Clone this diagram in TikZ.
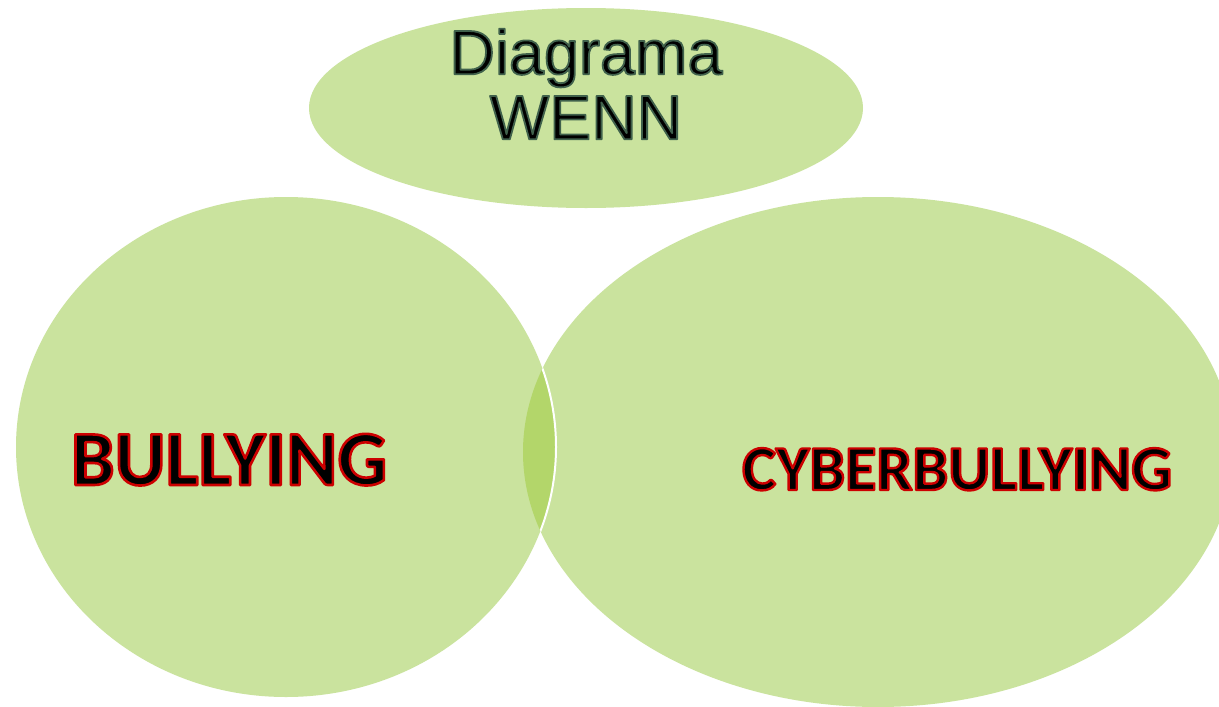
\documentclass[tikz,border=0pt]{standalone}
\usepackage{fontspec}
\setmainfont{Liberation Sans}
\newfontfamily\carlitofont{Carlito}
\usetikzlibrary{shapes.geometric}
\definecolor{lightgreen}{RGB}{202,227,158}
\definecolor{lensgreen}{RGB}{179,214,106}
\newcommand\outlinedtext[3]{\special{pdf:literal direct #1 RG #2 w 1 j 2 Tr}#3\special{pdf:literal direct 0 Tr}}
\tikzset{
  blob/.style={ellipse, fill=lightgreen, draw=none, inner sep=0pt},
  lbl/.style={inner sep=0pt, text=black},
}
\begin{document}
\begin{tikzpicture}[x=1pt,y=-1pt]
\clip (0,0) rectangle (1219,707);
\fill[white] (0,0) rectangle (1219,707);
% shapes
\node[blob, minimum width=554pt, minimum height=200pt] (title) at (586,108) {};
\node[blob, minimum width=710pt, minimum height=510pt] (right) at (878,452) {};
\node[blob, minimum width=540pt, minimum height=500pt] (left) at (286,447) {};
% lens
\begin{scope}
  \clip (right.center) ellipse [x radius=355, y radius=255];
  \fill[lensgreen] (left.center) ellipse [x radius=270, y radius=250];
  \draw[white, line width=2pt] (left.center) ellipse [x radius=270, y radius=250];
\end{scope}
% texts
\node[lbl, align=center, font=\fontsize{63}{65}\selectfont] (titletext) at (586,84)
  {\outlinedtext{0.25 0.38 0.3}{1.8}{Diagrama}\\\outlinedtext{0.25 0.38 0.3}{1.8}{WENN}};
\node[lbl, anchor=base, font=\carlitofont\bfseries\fontsize{78}{80}\selectfont] (bullying) at (229,485)
  {\outlinedtext{0.8 0 0}{2.6}{BULLYING}};
\node[lbl, anchor=base, font=\carlitofont\bfseries\fontsize{64}{66}\selectfont] (cyber) at (957,490)
  {\outlinedtext{0.8 0 0}{2.4}{CYBERBULLYING}};
\end{tikzpicture}
\end{document}
